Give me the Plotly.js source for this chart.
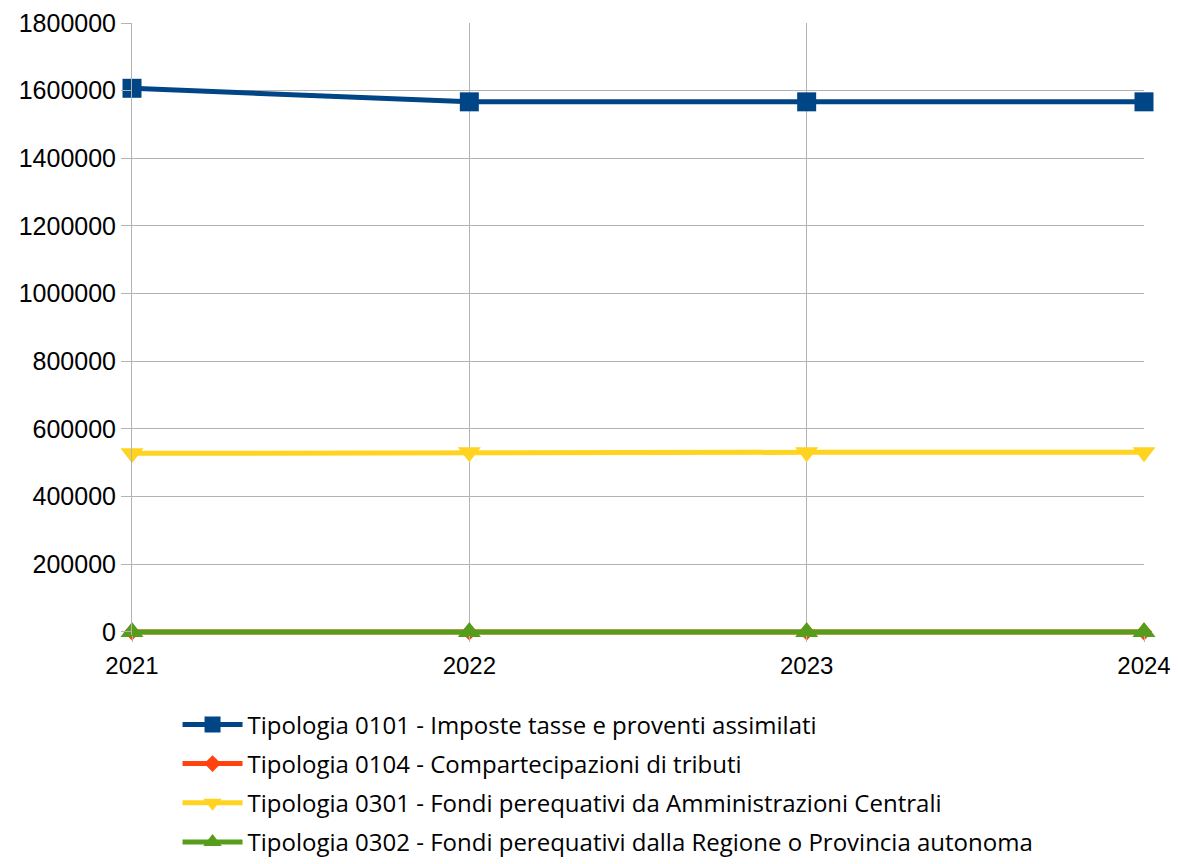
<!DOCTYPE html>
<html>
<head>
<meta charset="utf-8">
<script src="https://cdn.plot.ly/plotly-3.0.1.min.js"></script>
<style>html,body{margin:0;padding:0;background:#fff;}#chart{width:1178px;height:864px;}</style>
</head>
<body>
<div id="chart"></div>
<script>
const years = [2021, 2022, 2023, 2024];
const seriesNames = [
  "Tipologia 0101 - Imposte tasse e proventi assimilati",
  "Tipologia 0104 - Compartecipazioni di tributi",
  "Tipologia 0301 - Fondi perequativi da Amministrazioni Centrali",
  "Tipologia 0302 - Fondi perequativi dalla Regione o Provincia autonoma"
];
const tip0101 = [1607000, 1567000, 1567000, 1567000];
const tip0104 = [0, 0, 0, 0];
const tip0301 = [528000, 531000, 531000, 531000];
const tip0302 = [0, 0, 0, 0];
const yTicks = [0, 200000, 400000, 600000, 800000, 1000000, 1200000, 1400000, 1600000, 1800000];

const colors = ["#004586", "#ff420e", "#ffd320", "#579d1c"];
const symbols = ["square", "diamond", "triangle-down", "triangle-up"];
const sizes = [19, 13, 20, 20];
const allValues = [tip0101, tip0104, tip0301, tip0302];

const traces = allValues.map((vals, i) => ({
  x: years,
  y: vals,
  name: seriesNames[i],
  legendgroup: "g" + i,
  type: "scatter",
  mode: "lines+markers",
  line: {color: colors[i], width: 5},
  marker: {color: colors[i], symbol: symbols[i], size: sizes[i]},
  cliponaxis: false
}));

const layout = {
  width: 1178,
  height: 864,
  margin: {l: 132, r: 34, t: 23, b: 229, autoexpand: false},
  paper_bgcolor: "#ffffff",
  plot_bgcolor: "#ffffff",
  font: {family: "Liberation Sans, Arial, sans-serif", size: 24, color: "#000000"},
  showlegend: true,
  legend: {
    orientation: "v",
    x: 0.045, xanchor: "left",
    y: -0.11, yanchor: "top",
    font: {family: "Open Sans, sans-serif", size: 24, color: "#000000"},
    itemwidth: 60,
    tracegroupgap: 5,
    bgcolor: "rgba(0,0,0,0)"
  },
  xaxis: {
    type: "linear",
    range: [2021, 2024],
    tickvals: years,
    ticktext: years.map(String),
    showgrid: true,
    gridcolor: "#b3b3b3",
    gridwidth: 1,
    ticks: "outside",
    ticklen: 6,
    tickcolor: "#b3b3b3",
    showline: false,
    zeroline: false,
    ticklabelstandoff: 3,
    tickfont: {size: 24, color: "#000000"}
  },
  yaxis: {
    range: [-9000, 1800000],
    tickvals: yTicks,
    ticktext: yTicks.map(String),
    showgrid: true,
    gridcolor: "#b3b3b3",
    gridwidth: 1,
    ticks: "outside",
    ticklen: 10,
    tickcolor: "#b3b3b3",
    showline: true,
    linecolor: "#b3b3b3",
    linewidth: 1,
    zeroline: false,
    ticklabelstandoff: 0,
    tickfont: {size: 25, color: "#000000"}
  }
};

Plotly.newPlot("chart", traces, layout, {displayModeBar: false, staticPlot: true});
</script>
</body>
</html>
